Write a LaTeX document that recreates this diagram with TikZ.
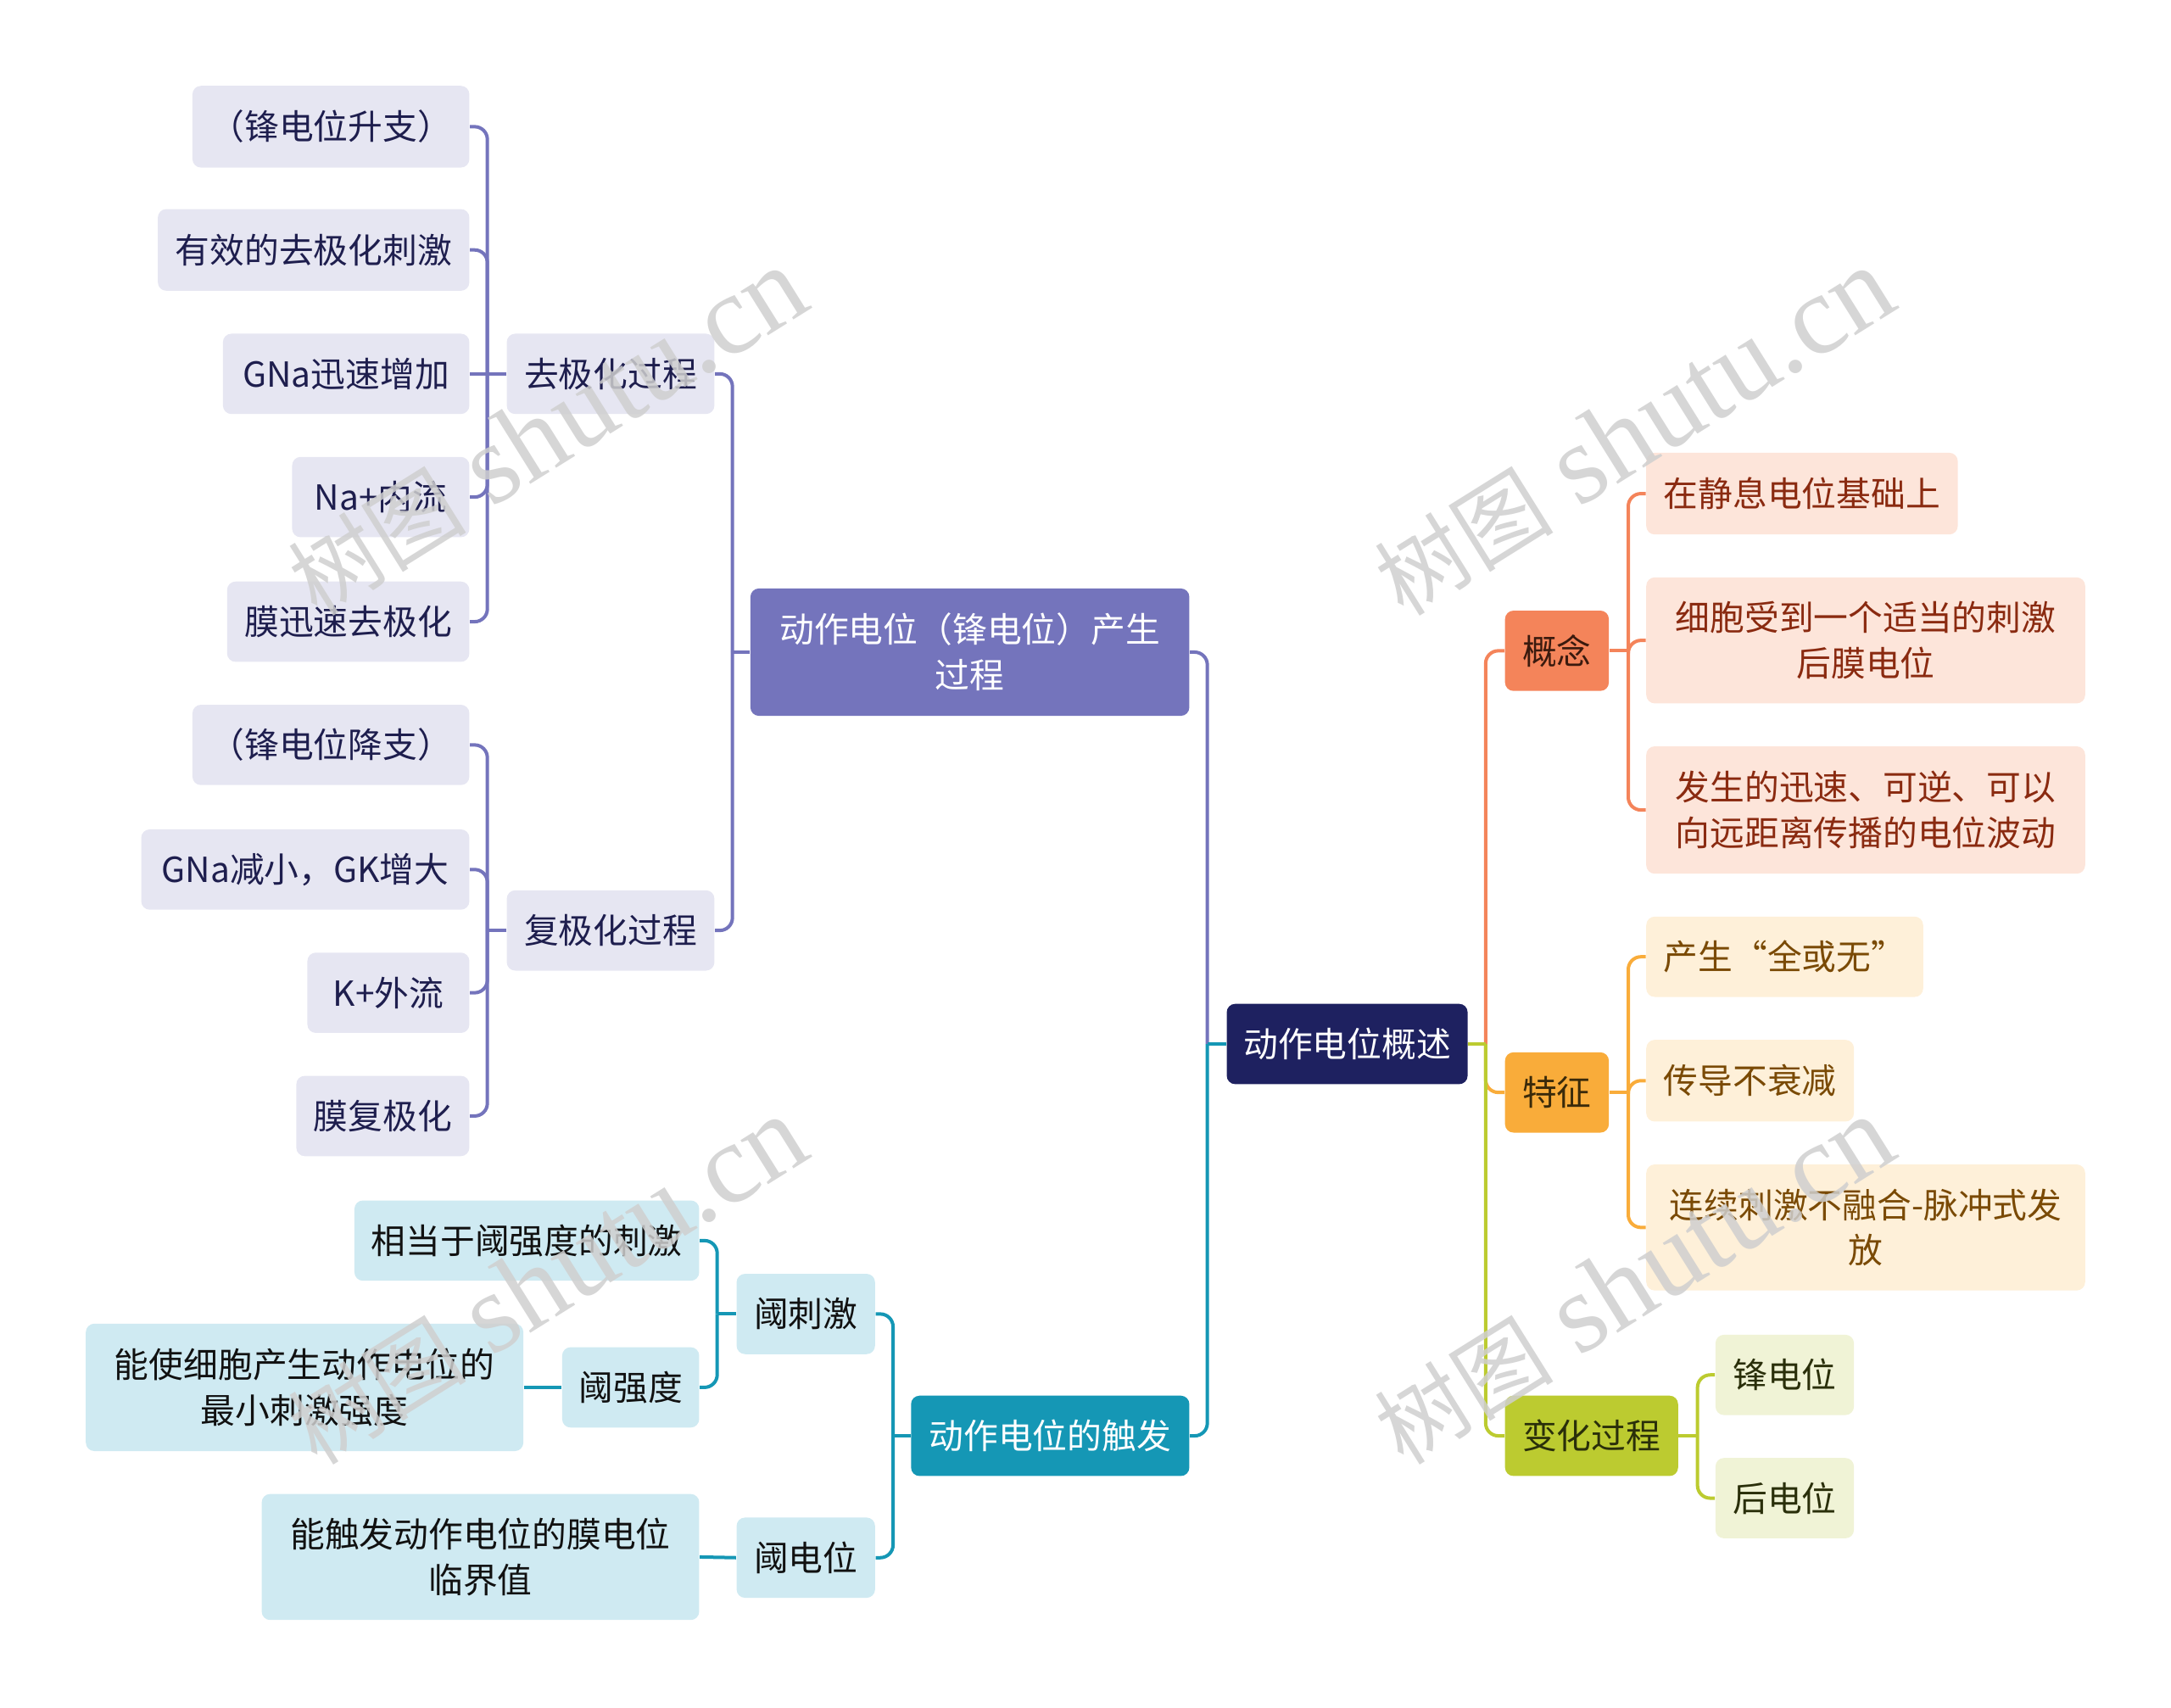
\documentclass[tikz,border=0pt]{standalone}
\usepackage{fontspec}
\setmainfont{Noto Sans CJK SC}
\newfontfamily\wmcjk{Noto Sans CJK SC}
\newfontfamily\wmlat{Liberation Serif}
\definecolor{rootc}{HTML}{1E2160}
\definecolor{purc}{HTML}{7474BC}
\definecolor{purl}{HTML}{E6E6F2}
\definecolor{purt}{HTML}{1E1E4E}
\definecolor{tealc}{HTML}{1597B5}
\definecolor{teall}{HTML}{CFEAF2}
\definecolor{tealt}{HTML}{111111}
\definecolor{orc}{HTML}{F4845A}
\definecolor{orl}{HTML}{FDE5DA}
\definecolor{ort}{HTML}{8A2A10}
\definecolor{orbt}{HTML}{3A1A0E}
\definecolor{goldc}{HTML}{F9AC3A}
\definecolor{goldl}{HTML}{FEF0D9}
\definecolor{goldt}{HTML}{7A4A05}
\definecolor{goldbt}{HTML}{3A2A0A}
\definecolor{grc}{HTML}{BCCB30}
\definecolor{grl}{HTML}{F0F3D6}
\definecolor{grt}{HTML}{2A2F0A}
\definecolor{wmc}{HTML}{CFCFCF}
\newlength\unitl
\setlength\unitl{0.016327cm}
\newcommand\nd[7]{\node[#2, minimum width={(#5-#3)*\unitl}, minimum height={(#6-#4)*\unitl}] (#1) at ({(#3+#5)/2},{(#4+#6)/2}) {#7};}
\newcommand\lnk[3]{\draw[link,#1] (#2) -- (#2 -| #3) -- (#3);}
\newcommand\wmtext{{\wmcjk\fontsize{30pt}{30pt}\selectfont 树图}\hspace{9pt}{\wmlat\fontsize{38pt}{38pt}\selectfont shutu.cn}}
\begin{document}
\begin{tikzpicture}[x=0.016327cm, y=-0.016327cm,
  base/.style={rectangle, rounded corners=0.1cm, inner sep=0pt, align=center, font=\fontsize{11.6pt}{15.3pt}\selectfont},
  rootbox/.style={base, fill=rootc, text=white},
  purbox/.style={base, fill=purc, text=white},
  purleaf/.style={base, fill=purl, text=purt},
  tealbox/.style={base, fill=tealc, text=white},
  tealleaf/.style={base, fill=teall, text=tealt},
  orbox/.style={base, fill=orc, text=orbt},
  orleaf/.style={base, fill=orl, text=ort},
  goldbox/.style={base, fill=goldc, text=goldbt},
  goldleaf/.style={base, fill=goldl, text=goldt},
  grbox/.style={base, fill=grc, text=grt},
  grleaf/.style={base, fill=grl, text=grt},
  link/.style={line width=0.04cm, rounded corners=0.15cm},
  wm/.style={text=wmc, opacity=0.85, inner sep=0pt}
]
\useasboundingbox (0,0) rectangle (1568,1233);

% root and left purple branch
\nd{root}{rootbox}{886}{725}{1060}{783}{动作电位概述}
\nd{gen}{purbox}{542}{425}{859}{517}{动作电位（锋电位）产生\\过程}
\nd{dep}{purleaf}{366}{241}{516}{299}{去极化过程}
\nd{rep}{purleaf}{366}{643}{516}{701}{复极化过程}
\nd{d1}{purleaf}{139}{62}{339}{121}{（锋电位升支）}
\nd{d2}{purleaf}{114}{151}{339}{210}{有效的去极化刺激}
\nd{d3}{purleaf}{161}{241}{339}{299}{GNa迅速增加}
\nd{d4}{purleaf}{211}{330}{339}{388}{Na+内流}
\nd{d5}{purleaf}{164}{420}{339}{478}{膜迅速去极化}
\nd{r1}{purleaf}{139}{509}{339}{567}{（锋电位降支）}
\nd{r2}{purleaf}{102}{599}{339}{657}{GNa减小，GK增大}
\nd{r3}{purleaf}{222}{688}{339}{746}{K+外流}
\nd{r4}{purleaf}{214}{777}{339}{835}{膜复极化}

% teal branch
\nd{trig}{tealbox}{658}{1008}{859}{1066}{动作电位的触发}
\nd{ts}{tealleaf}{532}{920}{632}{978}{阈刺激}
\nd{tp}{tealleaf}{532}{1096}{632}{1154}{阈电位}
\nd{ts1}{tealleaf}{256}{867}{505}{925}{相当于阈强度的刺激}
\nd{ti}{tealleaf}{406}{973}{505}{1031}{阈强度}
\nd{ti1}{tealleaf}{62}{956}{378}{1048}{能使细胞产生动作电位的\\最小刺激强度}
\nd{tp1}{tealleaf}{189}{1079}{505}{1170}{能触发动作电位的膜电位\\临界值}

% right side
\nd{con}{orbox}{1087}{441}{1162}{499}{概念}
\nd{c1}{orleaf}{1189}{327}{1414}{386}{在静息电位基础上}
\nd{c2}{orleaf}{1189}{417}{1506}{508}{细胞受到一个适当的刺激\\后膜电位}
\nd{c3}{orleaf}{1189}{539}{1506}{631}{发生的迅速、可逆、可以\\向远距离传播的电位波动}
\nd{feat}{goldbox}{1087}{760}{1162}{818}{特征}
\nd{f1}{goldleaf}{1189}{662}{1389}{720}{产生“全或无”}
\nd{f2}{goldleaf}{1189}{751}{1339}{810}{传导不衰减}
\nd{f3}{goldleaf}{1189}{841}{1506}{932}{连续刺激不融合-脉冲式发\\放}
\nd{chg}{grbox}{1087}{1008}{1212}{1066}{变化过程}
\nd{g1}{grleaf}{1239}{964}{1339}{1022}{锋电位}
\nd{g2}{grleaf}{1239}{1053}{1339}{1111}{后电位}

% junctions
\coordinate (jdep) at (352,270);
\coordinate (jrep) at (352,672);
\coordinate (jgen) at (529,471);
\coordinate (jL) at (872,754);
\coordinate (jts) at (518,949);
\coordinate (jtrig) at (645,1037);
\coordinate (jR) at (1073,754);
\coordinate (jcon) at (1176,470);
\coordinate (jfeat) at (1176,789);
\coordinate (jchg) at (1226,1037);

% purple connectors
\lnk{purc}{d1.east}{jdep}
\lnk{purc}{d2.east}{jdep}
\draw[link,purc] (d3.east) -- (jdep);
\lnk{purc}{d4.east}{jdep}
\lnk{purc}{d5.east}{jdep}
\draw[link,purc] (jdep) -- (dep.west);
\lnk{purc}{r1.east}{jrep}
\lnk{purc}{r2.east}{jrep}
\lnk{purc}{r3.east}{jrep}
\lnk{purc}{r4.east}{jrep}
\draw[link,purc] (jrep) -- (rep.west);
\lnk{purc}{dep.east}{jgen}
\lnk{purc}{rep.east}{jgen}
\draw[link,purc] (jgen) -- (gen.west);
\lnk{purc}{gen.east}{jL}

% teal connectors
\lnk{tealc}{ts1.east}{jts}
\lnk{tealc}{ti.east}{jts}
\draw[link,tealc] (jts) -- (ts.west);
\draw[link,tealc] (ti1.east) -- (ti.west);
\draw[link,tealc] (tp1.east) -- (tp.west);
\lnk{tealc}{ts.east}{jtrig}
\lnk{tealc}{tp.east}{jtrig}
\draw[link,tealc] (jtrig) -- (trig.west);
\lnk{tealc}{trig.east}{jL}
\draw[link,tealc] (jL) -- (root.west);

% right connectors
\lnk{orc}{con.west}{jR}
\lnk{goldc}{feat.west}{jR}
\lnk{grc}{chg.west}{jR}
\draw[link,grc] (root.east) -- (jR);
\lnk{orc}{c1.west}{jcon}
\lnk{orc}{c2.west}{jcon}
\lnk{orc}{c3.west}{jcon}
\draw[link,orc] (jcon) -- (con.east);
\lnk{goldc}{f1.west}{jfeat}
\lnk{goldc}{f2.west}{jfeat}
\lnk{goldc}{f3.west}{jfeat}
\draw[link,goldc] (jfeat) -- (feat.east);
\lnk{grc}{g1.west}{jchg}
\lnk{grc}{g2.west}{jchg}
\draw[link,grc] (jchg) -- (chg.east);

% watermarks
\node[wm, rotate=32] (w1) at (395,312) {\wmtext};
\node[wm, rotate=32] (w2) at (1180,312) {\wmtext};
\node[wm, rotate=32] (w3) at (395,925) {\wmtext};
\node[wm, rotate=32] (w4) at (1180,925) {\wmtext};
\end{tikzpicture}
\end{document}
